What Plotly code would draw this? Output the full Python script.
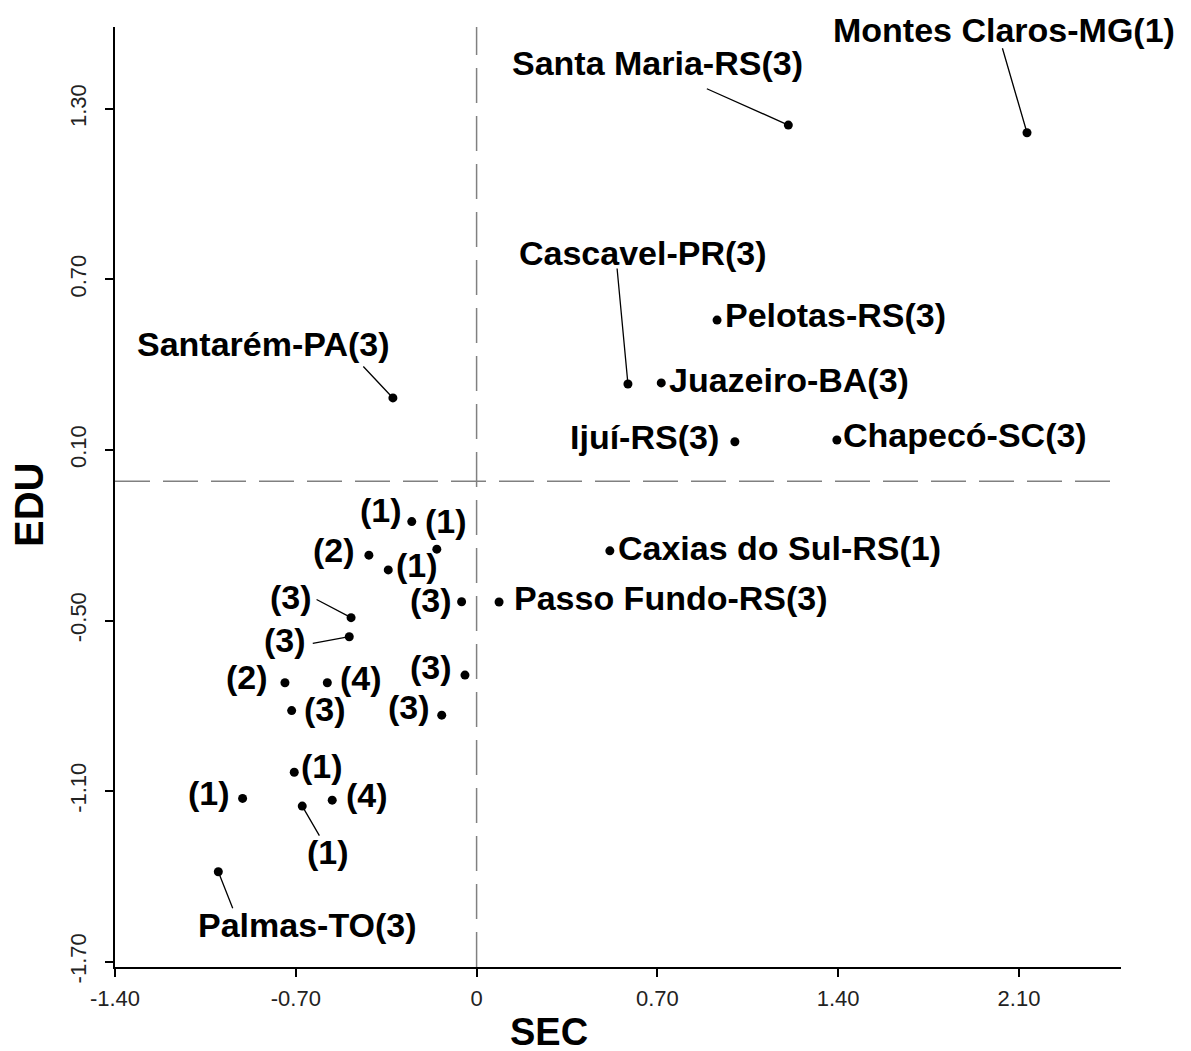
import plotly.graph_objects as go

# ---------------- data ----------------
labels = [
    "Montes Claros-MG(1)", "Santa Maria-RS(3)", "Cascavel-PR(3)", "Juazeiro-BA(3)",
    "Pelotas-RS(3)", "Ijuí-RS(3)", "Chapecó-SC(3)", "Santarém-PA(3)",
    "Caxias do Sul-RS(1)", "Passo Fundo-RS(3)", "Palmas-TO(3)",
    "(1)", "(1)", "(2)", "(1)", "(3)", "(3)", "(3)", "(2)", "(4)", "(3)",
    "(3)", "(3)", "(1)", "(1)", "(4)", "(1)",
]
sec = [
    2.131, 1.207, 0.586, 0.715, 0.931, 1.000, 1.395, -0.324, 0.516, 0.087, -1.000,
    -0.251, -0.154, -0.417, -0.342, -0.058, -0.486, -0.493, -0.742, -0.578, -0.045,
    -0.716, -0.135, -0.906, -0.706, -0.559, -0.675,
]
edu = [
    1.216, 1.243, 0.332, 0.336, 0.557, 0.129, 0.135, 0.283, -0.255, -0.435, -1.384,
    -0.152, -0.249, -0.270, -0.322, -0.434, -0.490, -0.557, -0.719, -0.719, -0.692,
    -0.817, -0.833, -1.126, -1.034, -1.132, -1.153,
]
x_tickvals = [-1.4, -0.7, 0.0, 0.7, 1.4, 2.1]
x_ticktext = ["-1.40", "-0.70", "0", "0.70", "1.40", "2.10"]
y_tickvals = [-1.7, -1.1, -0.5, 0.1, 0.7, 1.3]
y_ticktext = ["-1.70", "-1.10", "-0.50", "0.10", "0.70", "1.30"]
x_title = "SEC"
y_title = "EDU"
ref_x = 0.0
ref_y = -0.01

# ---------------- label placement (pixels) ----------------
# (xanchor, xshift, yshift)
label_pos = [
    ("center", -23, 103), ("center", -131, 62), ("center", 15, 131), ("left", 6, 3),
    ("left", 6, 5), ("right", -14, 5), ("left", 4, 5), ("center", -129, 54),
    ("left", 6, 3), ("left", 13, 4), ("center", 89, -53),
    ("right", -8, 12), ("center", 9, 28), ("right", -12, 5), ("left", 6, 5),
    ("right", -8, 2), ("right", -37, 21), ("right", -41, -3), ("right", -15, 6),
    ("left", 11, 5), ("right", -11, 8), ("left", 10, 2), ("right", -10, 8),
    ("right", -11, 5), ("left", 5, 6), ("left", 12, 5), ("center", 26, -46),
]
# leader lines: index -> (ax, ay) pixel offset of the tail from the point
leaders = {
    0: (-25, -86), 1: (-83, -37), 2: (-11, -117), 7: (-31, -33),
    10: (15, 38), 16: (-36, -19), 17: (-38, 7), 26: (18, 31),
}

FONT = "Liberation Sans, Arial, sans-serif"

fig = go.Figure()
fig.add_trace(go.Scatter(
    x=sec, y=edu, mode="markers",
    marker=dict(color="black", size=9),
    hoverinfo="skip", showlegend=False,
))

annotations = []
for i, (lab, xv, yv) in enumerate(zip(labels, sec, edu)):
    xa, xs, ys = label_pos[i]
    annotations.append(dict(
        x=xv, y=yv, xref="x", yref="y", text="<b>%s</b>" % lab, showarrow=False,
        xanchor=xa, yanchor="middle", xshift=xs, yshift=ys,
        font=dict(family=FONT, size=34, color="black"),
    ))
    if i in leaders:
        ax, ay = leaders[i]
        annotations.append(dict(
            x=xv, y=yv, xref="x", yref="y", text="", showarrow=True,
            ax=ax, ay=ay, arrowhead=0, arrowwidth=1.3, arrowcolor="black",
            standoff=0, startstandoff=0,
        ))

# axis titles
annotations.append(dict(
    x=0.4314, y=-0.069, xref="paper", yref="paper", text="<b>%s</b>" % x_title,
    showarrow=False, xanchor="center", yanchor="middle",
    font=dict(family=FONT, size=38, color="black"),
))
annotations.append(dict(
    x=-0.0855, y=0.4915, xref="paper", yref="paper", text="<b>%s</b>" % y_title,
    showarrow=False, xanchor="center", yanchor="middle", textangle=-90,
    font=dict(family=FONT, size=40, color="black"),
))

fig.update_layout(
    width=1183, height=1043,
    margin=dict(l=107, r=70, t=19, b=84),
    paper_bgcolor="white", plot_bgcolor="white",
    annotations=annotations,
    shapes=[
        dict(type="line", xref="x", yref="paper", x0=ref_x, x1=ref_x, y0=0, y1=1,
             line=dict(color="#808080", width=1.5, dash="35px,13px")),
        dict(type="line", xref="paper", yref="y", x0=0, x1=1, y0=ref_y, y1=ref_y,
             line=dict(color="#808080", width=1.5, dash="35px,13px")),
    ],
    xaxis=dict(
        range=[-1.40, 2.495], showgrid=False, zeroline=False,
        showline=True, linecolor="black", linewidth=1.5,
        ticks="outside", ticklen=8, tickwidth=1.5, tickcolor="black",
        tickvals=x_tickvals, ticktext=x_ticktext, ticklabelstandoff=3,
        tickfont=dict(family=FONT, size=22, color="#222222"),
    ),
    yaxis=dict(
        range=[-1.719, 1.588], showgrid=False, zeroline=False,
        showline=True, linecolor="black", linewidth=1.5,
        ticks="outside", ticklen=8, tickwidth=1.5, tickcolor="black",
        tickvals=y_tickvals, ticktext=y_ticktext, tickangle=-90, ticklabelstandoff=10,
        tickfont=dict(family=FONT, size=22, color="#222222"),
    ),
)

fig.write_html("out.html")
